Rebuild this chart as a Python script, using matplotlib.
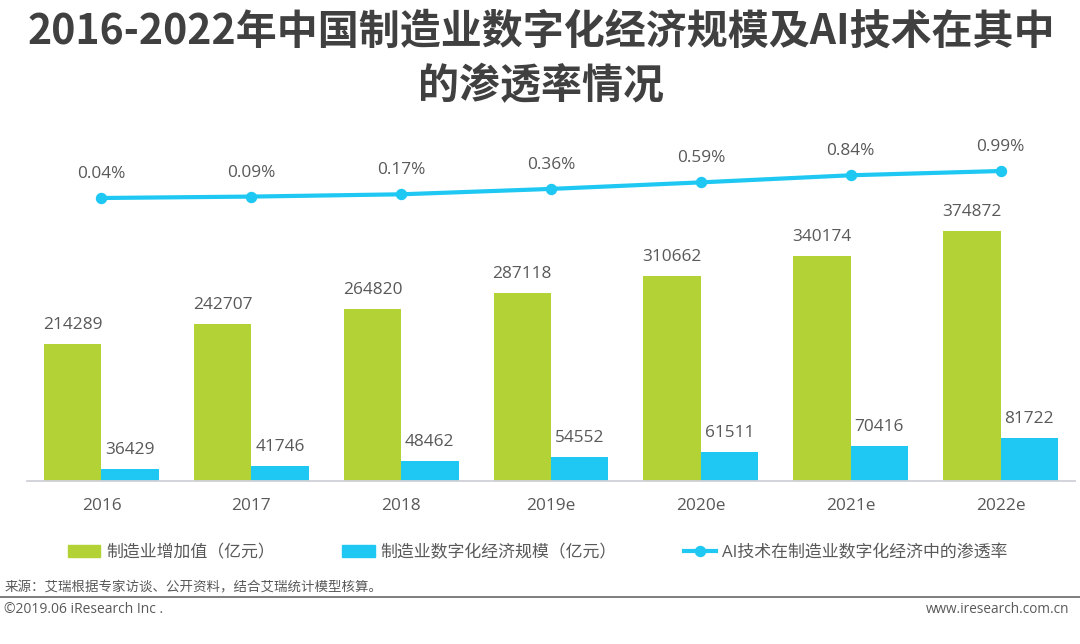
import matplotlib
matplotlib.use("Agg")
import matplotlib.pyplot as plt
from matplotlib.lines import Line2D
from matplotlib.patches import Patch, Rectangle

FONTS = ['Open Sans', 'Noto Sans CJK SC', 'DejaVu Sans']
plt.rcParams['font.family'] = FONTS

years = ['2016', '2017', '2018', '2019e', '2020e', '2021e', '2022e']
added_value = [214289, 242707, 264820, 287118, 310662, 340174, 374872]
digital_scale = [36429, 41746, 48462, 54552, 61511, 70416, 81722]
penetration = [0.04, 0.09, 0.17, 0.36, 0.59, 0.84, 0.99]
penetration_labels = ['0.04%', '0.09%', '0.17%', '0.36%', '0.59%', '0.84%', '0.99%']

title = '2016-2022年中国制造业数字化经济规模及AI技术在其中\n的渗透率情况'
legend_names = ['制造业增加值（亿元）', '制造业数字化经济规模（亿元）', 'AI技术在制造业数字化经济中的渗透率']
source = '来源：艾瑞根据专家访谈、公开资料，结合艾瑞统计模型核算。'
copyright_text = '©2019.06 iResearch Inc .'
website = 'www.iresearch.com.cn'

GREEN = '#B2D235'
BLUE = '#1EC8F2'
TEXT = '#595959'
W, H = 1080, 644

fig = plt.figure(figsize=(W / 100, H / 100), dpi=100, facecolor='white')


def fx(px):
    return px / W


def fy(py):
    return 1 - py / H


ax = fig.add_axes([fx(27), fy(481), fx(1075) - fx(27), fy(120) - fy(481)])
xs = list(range(len(years)))
bw = 0.383
ax.set_xlim(-0.497, 6.497)
ax.set_ylim(20000, 20000 + 361 / 0.000704)
ax.bar([x - bw / 2 for x in xs], added_value, bw, color=GREEN)
ax.bar([x + bw / 2 for x in xs], digital_scale, bw, color=BLUE)
for x, a, d in zip(xs, added_value, digital_scale):
    ax.annotate(str(a), (x - bw / 2, a), xytext=(0, 11), textcoords='offset pixels',
                ha='center', va='bottom', fontsize=12.4, color=TEXT)
    ax.annotate(str(d), (x + bw / 2, d), xytext=(0, 11), textcoords='offset pixels',
                ha='center', va='bottom', fontsize=12.4, color=TEXT)
ax.set_xticks(xs)
ax.set_xticklabels(years, fontsize=12.4, color=TEXT)
ax.tick_params(axis='x', length=0, pad=12)
ax.set_yticks([])
for s in ['top', 'left', 'right']:
    ax.spines[s].set_visible(False)
ax.spines['bottom'].set_color('#D0D0D8')
ax.spines['bottom'].set_linewidth(1.3)
ax.patch.set_alpha(0)

# Rate line on its own hidden scale
ax2 = ax.twinx()
ax2.set_ylim(0.04 - (481 - 198) / 28.4, 0.04 + (198 - 120) / 28.4)
ax2.plot(xs, penetration, color=BLUE, lw=3, marker='o', ms=7.2, solid_capstyle='round')
for x, p, lab in zip(xs, penetration, penetration_labels):
    ax2.annotate(lab, (x, p), xytext=(0, 16), textcoords='offset pixels',
                 ha='center', va='bottom', fontsize=12.4, color=TEXT)
ax2.set_yticks([])
for s in ax2.spines.values():
    s.set_visible(False)

# Title
fig.text(fx(541), fy(59), title, ha='center', va='center', fontsize=29.5,
         fontweight='bold', color='#404040', family=['Noto Sans CJK SC', 'DejaVu Sans'],
         linespacing=1.36)

# Legend
handles = [Patch(color=GREEN), Patch(color=BLUE),
           Line2D([], [], color=BLUE, lw=3, marker='o', ms=7.2)]
fig.legend(handles, legend_names, loc='center left', bbox_to_anchor=(fx(68), fy(553)),
           ncol=3, frameon=False, fontsize=12.2, labelcolor=TEXT, handlelength=1.9,
           handleheight=0.7, handletextpad=0.35, columnspacing=3.98, borderpad=0, borderaxespad=0)

# Footer
fig.text(fx(5), fy(588), source, ha='left', va='center', fontsize=9.7, color=TEXT)
fig.add_artist(Rectangle((0, fy(598)), 1, 1.6 / H, transform=fig.transFigure, color='#808080', lw=0))
fig.text(fx(4), fy(609.5), copyright_text, ha='left', va='center', fontsize=10, color=TEXT)
fig.text(fx(1069), fy(609.5), website, ha='right', va='center', fontsize=9.8, color=TEXT)

fig.savefig('out.png', dpi=100, facecolor='white')
